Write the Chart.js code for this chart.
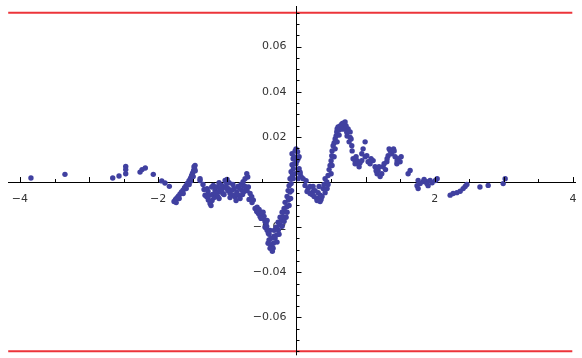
<!DOCTYPE html>
<html>
<head>
<meta charset="utf-8">
<script src="https://cdn.jsdelivr.net/npm/chart.js@4/dist/chart.umd.min.js"></script>
<style>
html,body{margin:0;padding:0;background:#fff;}
#wrap{width:582px;height:358px;position:relative;}
</style>
</head>
<body>
<div id="wrap"><canvas id="c" width="582" height="358"></canvas></div>
<script>
// ---- data ----
const pointX = [
-3.841,-3.349,-2.658,-2.567,-2.470,-2.470,-2.470,-2.263,-2.234,-2.187,-2.071,-1.949,-1.902,-1.839,
-1.771,-1.750,-1.728,-1.706,-1.684,-1.663,-1.641,-1.619,-1.598,-1.576,-1.554,-1.533,-1.518,-1.504,-1.489,-1.475,-1.467,-1.482,-1.569,-1.656,-1.395,
-1.740,-1.697,-1.639,-1.595,-1.552,-1.523,-1.494,-1.465,
-1.395,-1.323,-1.298,-1.275,-1.250,-1.279,-1.226,-1.203,-1.178,-1.153,-1.130,-1.106,-1.081,-1.058,-1.033,-1.009,-0.986,-0.961,-0.936,-0.913,-0.889,-0.864,-0.841,-0.816,-0.792,-0.768,-0.744,-0.719,-0.705,-0.696,-0.671,-0.647,-0.624,
-1.213,-1.140,-1.066,-0.994,-0.920,-0.848,-0.779,-1.120,-0.975,-0.757,-1.337,-1.192,
-1.352,-1.294,-1.265,-1.236,-1.221,-1.163,-1.120,-1.077,-1.048,-1.019,-0.961,-0.903,-0.874,-0.830,-0.801,-0.772,-0.744,-0.715,-0.686,-0.643,-1.004,
-0.599,-0.575,-0.551,-0.527,-0.502,-0.479,-0.455,-0.430,-0.407,-0.397,-0.368,-0.349,-0.334,-0.310,-0.285,-0.262,-0.237,-0.213,-0.190,-0.165,-0.140,-0.117,-0.093,-0.078,-0.059,-0.045,-0.030,
-0.570,-0.498,-0.425,-0.382,-0.324,-0.281,-0.252,-0.208,-0.179,-0.150,-0.136,-0.107,-0.085,-0.071,-0.049,-0.469,-0.440,-0.368,
-0.541,-0.512,-0.483,-0.454,-0.425,-0.396,-0.411,-0.382,-0.338,-0.324,-0.295,-0.266,-0.237,-0.208,-0.179,-0.165,-0.136,-0.121,-0.107,-0.093,-0.078,-0.064,-0.049,-0.064,
-0.035,-0.020,-0.006,0.016,0.023,-0.006,0.038,0.052,-0.020,0.009,0.038,0.067,0.023,
0.052,0.096,0.124,0.168,0.240,0.294,0.342,0.385,0.439,0.457,0.486,0.511,0.530,0.559,0.583,0.602,0.656,0.703,0.728,0.776,0.800,0.848,0.891,0.945,1.017,
0.139,0.197,0.226,0.269,0.313,0.356,0.327,0.399,0.443,0.414,0.472,0.501,0.515,0.544,0.573,0.588,0.631,0.674,0.617,0.689,0.747,0.732,0.761,0.805,0.819,0.342,0.298,
0.370,0.414,0.457,0.501,0.515,0.544,0.559,0.588,0.617,0.660,0.703,0.718,0.776,0.790,
0.197,0.255,0.153,0.240,
0.945,0.993,1.065,1.109,1.137,1.181,1.234,1.253,1.307,1.326,1.355,1.379,1.427,1.470,1.499,1.452,1.615,1.644,1.760,1.760,1.789,1.832,1.886,1.933,1.962,2.011,2.035,1.886,1.904,
0.964,0.993,1.036,1.166,1.210,1.288,1.404,0.877,0.906,0.848,
0.862,0.920,1.079,1.152,1.195,1.268,1.311,1.340,1.413,1.456,1.514,1.744,1.846,
2.223,2.266,2.320,2.368,2.411,2.440,2.465,2.654,2.773,2.990,3.019
];
const pointY = [
0.0018,0.0034,0.0018,0.0027,0.0069,0.0055,0.0037,0.0044,0.0055,0.0062,0.0034,0.0005,-0.0004,-0.0019,
-0.0086,-0.0077,-0.0069,-0.0062,-0.0053,-0.0044,-0.0036,-0.0025,-0.0016,-0.0005,0.0006,0.0017,0.0028,0.0039,0.0050,0.0061,0.0074,0.0068,-0.0011,-0.0047,0.0007,
-0.0091,-0.0073,-0.0051,-0.0029,-0.0011,0.0006,0.0024,0.0050,
0.0015,-0.0058,-0.0065,-0.0080,-0.0095,-0.0042,-0.0022,-0.0015,-0.0036,-0.0022,-0.0044,-0.0029,-0.0015,-0.0022,0.0007,-0.0007,-0.0029,-0.0051,-0.0036,-0.0058,-0.0065,-0.0044,-0.0058,-0.0073,-0.0036,-0.0015,0.0015,0.0037,0.0022,-0.0022,-0.0051,-0.0065,-0.0080,
-0.0055,-0.0064,-0.0051,-0.0038,-0.0011,-0.0020,-0.0055,-0.0003,-0.0003,-0.0042,-0.0033,-0.0069,
-0.0011,-0.0029,-0.0060,-0.0104,-0.0082,-0.0051,-0.0073,-0.0033,-0.0055,-0.0024,-0.0069,-0.0029,-0.0082,-0.0024,-0.0011,0.0002,-0.0020,-0.0038,-0.0077,-0.0091,0.0011,
-0.0117,-0.0131,-0.0139,-0.0153,-0.0146,-0.0161,-0.0175,-0.0197,-0.0227,-0.0256,-0.0278,-0.0307,-0.0271,-0.0249,-0.0234,-0.0212,-0.0190,-0.0168,-0.0153,-0.0131,-0.0109,-0.0080,-0.0044,-0.0007,0.0029,0.0059,0.0081,
-0.0112,-0.0135,-0.0170,-0.0214,-0.0240,-0.0266,-0.0231,-0.0196,-0.0174,-0.0156,-0.0134,-0.0104,-0.0073,-0.0038,0.0015,-0.0152,-0.0183,-0.0249,
-0.0121,-0.0161,-0.0134,-0.0200,-0.0214,-0.0231,-0.0271,-0.0293,-0.0293,-0.0214,-0.0200,-0.0178,-0.0156,-0.0134,-0.0117,-0.0090,-0.0064,-0.0038,-0.0016,0.0015,0.0046,0.0077,0.0103,0.0125,
0.0112,0.0138,0.0147,0.0134,0.0103,0.0081,0.0059,0.0037,0.0037,0.0094,0.0112,0.0024,0.0015,
0.0044,0.0015,-0.0015,-0.0029,-0.0042,-0.0073,-0.0058,-0.0029,0.0000,0.0029,0.0073,0.0117,0.0161,0.0191,0.0222,0.0244,0.0257,0.0249,0.0220,0.0198,0.0161,0.0095,0.0081,0.0095,0.0117,
0.0006,-0.0020,-0.0055,-0.0038,-0.0047,-0.0077,-0.0020,-0.0011,-0.0029,0.0015,0.0055,0.0094,0.0138,0.0173,0.0204,0.0235,0.0248,0.0261,0.0230,0.0235,0.0235,0.0204,0.0178,0.0138,0.0103,-0.0086,-0.0082,
-0.0064,-0.0047,-0.0011,0.0037,0.0073,0.0112,0.0147,0.0178,0.0208,0.0235,0.0266,0.0248,0.0222,0.0191,
-0.0051,-0.0064,-0.0042,-0.0020,
0.0125,0.0112,0.0081,0.0095,0.0068,0.0051,0.0037,0.0068,0.0090,0.0117,0.0139,0.0125,0.0112,0.0103,0.0090,0.0081,0.0037,0.0051,0.0007,-0.0029,-0.0007,0.0002,0.0002,0.0007,-0.0003,0.0007,0.0015,-0.0007,-0.0016,
0.0147,0.0178,0.0090,0.0037,0.0024,0.0055,0.0147,0.0094,0.0068,0.0081,
0.0112,0.0085,0.0103,0.0050,0.0068,0.0081,0.0103,0.0147,0.0138,0.0094,0.0112,-0.0016,0.0011,
-0.0058,-0.0051,-0.0047,-0.0041,-0.0029,-0.0020,-0.0011,-0.0022,-0.0015,-0.0007,0.0015
];
const boundX = [-4.17, 3.99];
const boundY = [0.075, -0.075];
const xLabelTicks = [-4, -2, 2, 4];
const yLabelTicks = [-0.06, -0.04, -0.02, 0.02, 0.04, 0.06];

const MINUS = '\u2212';
const points = pointX.map((x, i) => ({x: x, y: pointY[i]}));
const boundLine = y => boundX.map(x => ({x: x, y: y}));

// vertical axis line and tick marks (Mathematica style: ticks on the inner side)
const axisTicks = {
  id: 'axisTicks',
  afterDraw(chart) {
    const ctx = chart.ctx, xs = chart.scales.x, ys = chart.scales.y, ca = chart.chartArea;
    const y0 = ys.getPixelForValue(0), x0 = Math.round(xs.getPixelForValue(0)) + 0.5;
    ctx.save();
    ctx.strokeStyle = '#000';
    ctx.lineWidth = 1;
    ctx.beginPath();
    ctx.moveTo(x0, ca.top); ctx.lineTo(x0, ca.bottom);
    for (let i = -8; i <= 8; i++) {
      if (i === 0) continue;
      const v = i * 0.5;
      const px = Math.round(xs.getPixelForValue(v)) + 0.5;
      const len = (i % 2 === 0) ? 5 : 3;
      ctx.moveTo(px, y0); ctx.lineTo(px, y0 - len);
    }
    for (let i = -15; i <= 15; i++) {
      if (i === 0) continue;
      const v = i * 0.005;
      const py = Math.round(ys.getPixelForValue(v)) + 0.5;
      const len = (i % 4 === 0) ? 5 : 3;
      ctx.moveTo(x0, py); ctx.lineTo(x0 + len, py);
    }
    ctx.stroke();
    ctx.restore();
  }
};

const zeroFitX = s => { s.height = 0; s.paddingLeft = 0; s.paddingRight = 0; s.paddingTop = 0; s.paddingBottom = 0; };
const zeroFitY = s => { s.width = 0; s.paddingLeft = 0; s.paddingRight = 0; s.paddingTop = 0; s.paddingBottom = 0; };

new Chart(document.getElementById('c'), {
  type: 'scatter',
  data: {
    datasets: [
      {data: points, backgroundColor: 'rgb(64,64,160)', borderWidth: 0, pointRadius: 2.7, pointHoverRadius: 2.7, order: 2},
      {type: 'line', data: boundLine(boundY[0]), borderColor: 'rgb(236,52,58)', borderWidth: 2, pointRadius: 0, fill: false, order: 1},
      {type: 'line', data: boundLine(boundY[1]), borderColor: 'rgb(236,52,58)', borderWidth: 2, pointRadius: 0, fill: false, order: 1}
    ]
  },
  options: {
    animation: false,
    responsive: false,
    devicePixelRatio: 1,
    layout: {padding: {left: 8, right: 7, top: 6, bottom: 0}},
    plugins: {legend: {display: false}, tooltip: {enabled: false}},
    scales: {
      x: {
        type: 'linear',
        position: {y: 0},
        min: -4.173, max: 4.029,
        z: 1,
        afterFit: zeroFitX,
        border: {display: true, color: '#000', width: 1},
        grid: {drawOnChartArea: false, drawTicks: false},
        ticks: {
          stepSize: 2, includeBounds: false, autoSkip: false, maxRotation: 0, padding: 11,
          color: '#333', font: {family: 'DejaVu Sans', size: 11},
          callback: v => {
            const r = Math.round(v);
            if (!xLabelTicks.includes(r) || Math.abs(v - r) > 1e-6) return '';
            return r < 0 ? MINUS + Math.abs(r) : String(r);
          }
        }
      },
      y: {
        type: 'linear',
        position: {x: -0.145},
        min: -0.07675, max: 0.07798,
        z: 1,
        afterFit: zeroFitY,
        border: {display: false},
        grid: {drawOnChartArea: false, drawTicks: false},
        ticks: {
          stepSize: 0.02, includeBounds: false, autoSkip: false, padding: 0,
          color: '#333', font: {family: 'DejaVu Sans', size: 11},
          callback: v => {
            const r = Math.round(v * 100) / 100;
            if (!yLabelTicks.includes(r)) return '';
            return r < 0 ? MINUS + Math.abs(r).toFixed(2) : r.toFixed(2);
          }
        }
      }
    }
  },
  plugins: [axisTicks]
});
</script>
</body>
</html>
